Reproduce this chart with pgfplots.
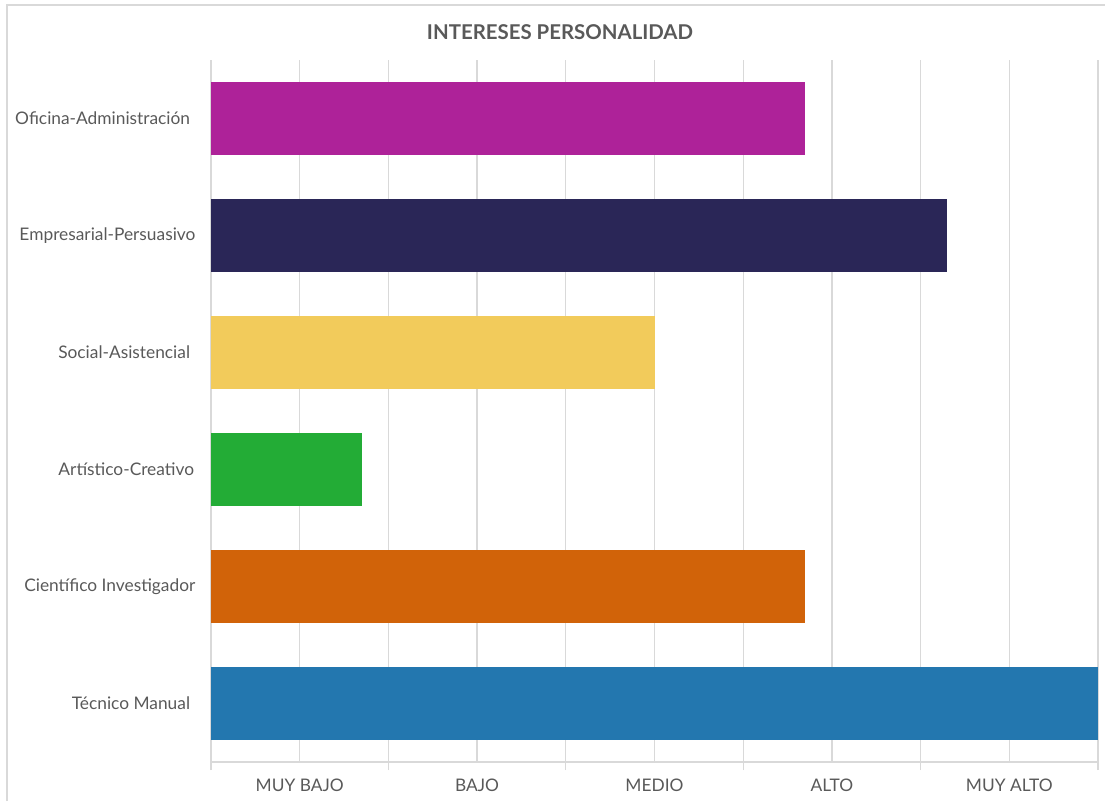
\documentclass[border=0pt]{standalone}
\usepackage{fontspec}
\setmainfont{Lato}
\usepackage{pgfplots}
\pgfplotsset{compat=1.18}

\definecolor{gridgray}{HTML}{D9D9D9}
\definecolor{txtgray}{HTML}{595959}
\definecolor{cOfi}{HTML}{AE2299}
\definecolor{cEmp}{HTML}{2A2657}
\definecolor{cSoc}{HTML}{F2CB5B}
\definecolor{cArt}{HTML}{23AC36}
\definecolor{cCie}{HTML}{D16309}
\definecolor{cTec}{HTML}{2377AF}

\begin{document}
\begin{tikzpicture}
% 1 px of the reference = 0.75pt; axis box from x=211..1098, y=60..762 px
\useasboundingbox (-158.25pt,-29.25pt) rectangle (670.5pt,571.5pt);
\draw[gridgray, line width=1pt] (-153pt,-29.25pt) -- (-153pt,567.75pt) -- (670.5pt,567.75pt);
\begin{axis}[
  at={(0,0)}, anchor=south west,
  scale only axis, width=665.25pt, height=526.5pt,
  xmin=0, xmax=100, ymin=-0.5, ymax=5.5,
  xbar, bar shift=0pt, bar width=54.75pt,
  axis lines*=left,
  axis line style={draw=gridgray, line width=1pt, -},
  xtick={0,20,...,100}, xticklabels={},
  xmajorgrids,
  grid style={draw=gridgray, line width=1pt},
  xtick align=outside,
  major tick length=6pt,
  tick style={draw=gridgray, line width=1pt},
  extra x ticks={10,30,50,70,90},
  extra x tick labels={MUY BAJO,BAJO,MEDIO,ALTO,MUY ALTO},
  extra x tick style={major tick length=0pt},
  xticklabel style={font=\fontsize{13}{15}\selectfont, text=txtgray, yshift=-9pt},
  ytick={0,...,5},
  yticklabels={Técnico Manual\kern4pt,Científico Investigador,Artístico-Creativo\kern1pt,Social-Asistencial\kern4pt,Empresarial-Persuasivo,Oficina-Administración\kern4pt},
  ytick style={draw=none},
  yticklabel style={font=\fontsize{13}{15}\selectfont, text=txtgray, anchor=east, inner sep=0pt, xshift=-5.5pt},
  title={INTERESES PERSONALIDAD},
  title style={at={(0.3935,1)}, anchor=center, yshift=15pt, font=\bfseries\fontsize{15.3}{17}\selectfont, text=txtgray},
  every axis plot/.append style={draw=none},
]
\addplot[fill=cTec] coordinates {(100,0)};
\addplot[fill=cCie] coordinates {(67,1)};
\addplot[fill=cArt] coordinates {(17,2)};
\addplot[fill=cSoc] coordinates {(50,3)};
\addplot[fill=cEmp] coordinates {(83,4)};
\addplot[fill=cOfi] coordinates {(67,5)};
\end{axis}
\end{tikzpicture}
\end{document}
